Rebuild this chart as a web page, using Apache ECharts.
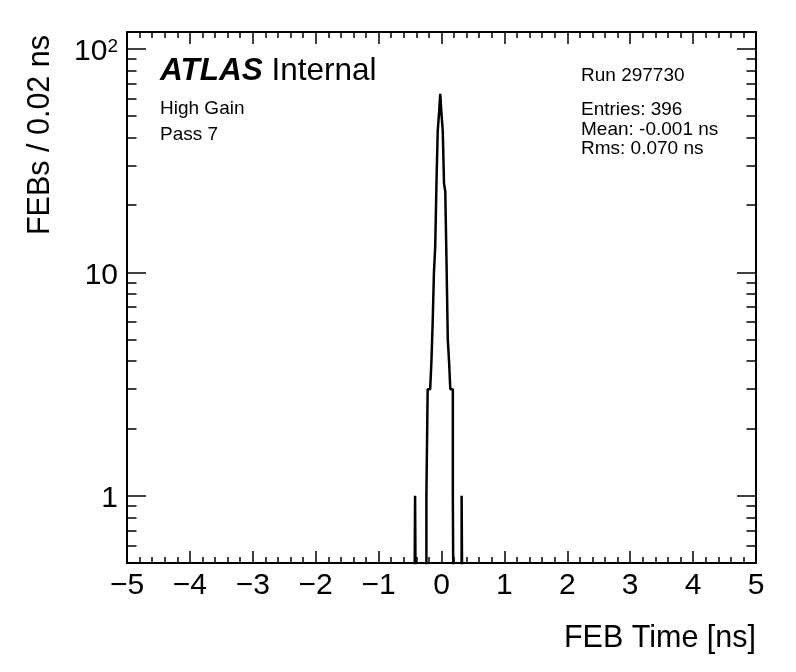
<!DOCTYPE html>
<html>
<head>
<meta charset="utf-8">
<title>FEB Time</title>
<script src="https://cdn.jsdelivr.net/npm/echarts@6/dist/echarts.min.js"></script>
<style>
html, body { margin: 0; padding: 0; background: #fff; }
#chart { width: 796px; height: 672px; }
</style>
</head>
<body>
<div id="chart"></div>
<script>
// FEB time distribution, 0.02 ns bins, log y axis
// only the non-empty bins: low edge of the bin and its content
const binLow = [-0.42, -0.24, -0.22, -0.20, -0.18, -0.16, -0.14, -0.12, -0.10, -0.08, -0.06, -0.04,
  -0.02, 0.00, 0.02, 0.04, 0.06, 0.08, 0.10, 0.12, 0.14, 0.16, 0.18, 0.32];
const counts = [1, 1, 3, 3, 3, 4, 6, 10, 13, 25, 43, 51,
  63, 51, 43, 25, 23, 11, 5, 4, 3, 3, 1, 1];
const binWidth = 0.02;
const xRange = [-5, 5];

const yMajor = [1, 10, 100];
const yMinor = [0.6, 0.7, 0.8, 0.9, 2, 3, 4, 5, 6, 7, 8, 9, 20, 30, 40, 50, 60, 70, 80, 90];
const yRange = [0.5, 119];

const atlasLabel = 'Internal';
const infoLeft = ['High Gain', 'Pass 7'];
const runLabel = 'Run 297730';
const infoRight = ['Entries: 396', 'Mean: -0.001 ns', 'Rms: 0.070 ns'];

const FONT = '"Liberation Sans", Arial, Helvetica, sans-serif';

// fill the full histogram
const nBins = Math.round((xRange[1] - xRange[0]) / binWidth);
const hist = new Array(nBins).fill(0);
binLow.forEach(function (x, i) {
  hist[Math.round((x - xRange[0]) / binWidth)] = counts[i];
});

// step outline; empty bins go below the axis minimum and are clipped away
const floorValue = 0.1;
const outline = [];
for (let i = 0; i < nBins; i++) {
  const lo = xRange[0] + i * binWidth;
  const hi = lo + binWidth;
  const v = hist[i] > 0 ? hist[i] : floorValue;
  outline.push([lo, v], [hi, v]);
}

const black = '#000';
const tickStyle = { color: black, width: 1.5 };

function xAxisDef(pos, labels) {
  return {
    type: 'value',
    position: pos,
    min: xRange[0],
    max: xRange[1],
    interval: 1,
    axisLine: { show: true, onZero: false, lineStyle: { color: black, width: 2 } },
    axisTick: { show: true, inside: true, length: 12, lineStyle: tickStyle },
    minorTick: { show: true, splitNumber: 5, length: 6, lineStyle: tickStyle },
    splitLine: { show: false },
    minorSplitLine: { show: false },
    axisLabel: {
      show: labels,
      margin: 8,
      color: black,
      fontFamily: FONT,
      fontSize: 30,
      formatter: function (v) { return String(v).replace('-', '\u2212'); }
    }
  };
}

function yAxisDef(pos, ticks, len, labels, line) {
  return {
    type: 'log',
    logBase: 10,
    position: pos,
    min: yRange[0],
    max: yRange[1],
    axisLine: { show: line, onZero: false, lineStyle: { color: black, width: 2 } },
    axisTick: { show: true, inside: true, length: len, customValues: ticks, lineStyle: tickStyle },
    minorTick: { show: false },
    splitLine: { show: false },
    axisLabel: {
      show: labels,
      customValues: yMajor,
      margin: 9,
      color: black,
      fontFamily: FONT,
      formatter: function (val) {
        const v = Math.round(val);
        return v === 100 ? '{b|10}{s|2}' : '{b|' + v + '}';
      },
      rich: {
        b: { fontSize: 30, fontFamily: FONT, color: black, lineHeight: 32, padding: [6, 0, 0, 0] },
        s: { fontSize: 19, fontFamily: FONT, color: black, lineHeight: 32, verticalAlign: 'top', padding: [4, 0, 0, 0] }
      }
    }
  };
}

function text(x, y, str, size, align) {
  return {
    type: 'text',
    x: x,
    y: y,
    style: {
      text: str,
      fontFamily: FONT,
      fontSize: size,
      fill: black,
      align: align || 'left',
      verticalAlign: 'middle'
    }
  };
}

const chart = echarts.init(document.getElementById('chart'), null, { renderer: 'canvas' });

const option = {
  animation: false,
  backgroundColor: '#fff',
  grid: { left: 127, right: 40, top: 32, bottom: 109, containLabel: false, outerBoundsMode: 'none' },
  xAxis: [xAxisDef('bottom', true), xAxisDef('top', false)],
  yAxis: [
    yAxisDef('left', yMajor, 19, true, true),
    yAxisDef('left', yMinor, 9.5, false, false),
    yAxisDef('right', yMajor, 19, false, true),
    yAxisDef('right', yMinor, 9.5, false, false)
  ],
  series: [{
    type: 'line',
    xAxisIndex: 0,
    yAxisIndex: 0,
    data: outline,
    symbol: 'none',
    clip: true,
    lineStyle: { color: black, width: 2.5 },
    silent: true
  }],
  graphic: [
    // axis titles
    {
      type: 'text',
      x: 41,
      y: 35,
      rotation: Math.PI / 2,
      style: {
        text: 'FEBs / 0.02 ns',
        fontFamily: FONT,
        fontSize: 30.5,
        fill: black,
        align: 'right',
        verticalAlign: 'middle'
      }
    },
    text(756, 639, 'FEB Time [ns]', 30.5, 'right'),
    // ATLAS label
    {
      type: 'text',
      x: 160,
      y: 71,
      style: {
        text: '{a|ATLAS} {b|' + atlasLabel + '}',
        fontFamily: FONT,
        fontSize: 31.5,
        fill: black,
        verticalAlign: 'middle',
        rich: {
          a: { fontFamily: FONT, fontSize: 31.5, fontWeight: 'bold', fontStyle: 'italic', fill: black },
          b: { fontFamily: FONT, fontSize: 31.5, fill: black }
        }
      }
    },
    text(160, 109, infoLeft[0], 19),
    text(160, 135, infoLeft[1], 19),
    text(581, 76, runLabel, 19),
    text(581, 110, infoRight[0], 19),
    text(581, 129.5, infoRight[1], 19),
    text(581, 149, infoRight[2], 19)
  ]
};

chart.setOption(option);
</script>
</body>
</html>
